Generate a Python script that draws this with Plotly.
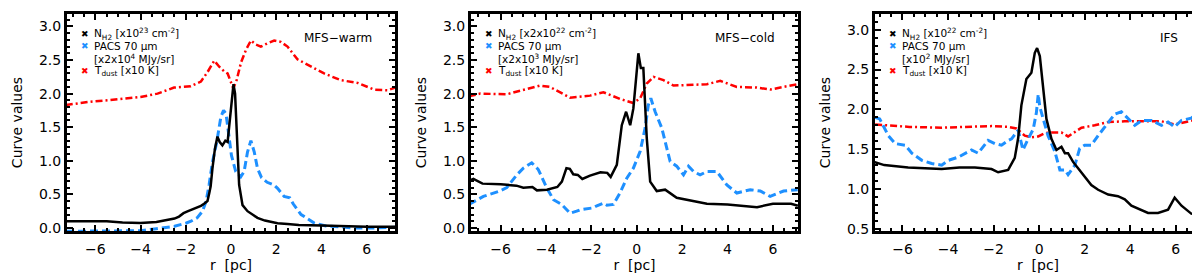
import plotly.graph_objects as go

# ---------------- data ----------------
# Panel 1: MFS-warm
warm_nh2_r = [-7.3, -6.5, -6.0, -5.5, -4.8, -4.0, -3.3, -2.8, -2.5, -2.3, -2.1, -1.9, -1.7, -1.5, -1.33, -1.19,
              -1.04, -0.96, -0.9, -0.82, -0.71, -0.6, -0.5, -0.38, -0.25, -0.15, -0.04, 0.05, 0.11, 0.18, 0.26,
              0.36, 0.51, 0.73, 1.0, 1.17, 1.5, 2.06, 2.5, 3.0, 4.0, 5.0, 6.0, 7.3]
warm_nh2_v = [0.10, 0.10, 0.11, 0.10, 0.08, 0.075, 0.09, 0.12, 0.14, 0.17, 0.22, 0.25, 0.28, 0.30, 0.33, 0.36,
              0.40, 0.52, 0.62, 0.89, 1.18, 1.36, 1.28, 1.23, 1.30, 1.28, 1.62, 1.95, 2.14, 2.00, 1.38,
              0.64, 0.34, 0.25, 0.19, 0.15, 0.11, 0.07, 0.06, 0.045, 0.035, 0.025, 0.02, 0.02]
warm_pacs_r = [-7.3, -6.0, -5.0, -4.0, -3.3, -2.8, -2.5, -2.0, -1.77, -1.5, -1.26, -1.1, -0.97, -0.82, -0.63, -0.45,
               -0.33, -0.22, -0.15, 0.02, 0.21, 0.43, 0.58, 0.73, 0.88, 1.03, 1.17, 1.35, 1.6, 1.9, 2.06, 2.35,
               2.6, 2.75, 3.1, 3.7, 4.2, 4.86, 5.5, 6.3, 7.3]
warm_pacs_v = [-0.05, -0.05, -0.045, -0.04, -0.01, 0.01, 0.025, 0.07, 0.10, 0.15, 0.25, 0.40, 0.64, 0.98, 1.28, 1.65,
               1.75, 1.70, 1.53, 1.08, 0.84, 0.76, 0.84, 1.13, 1.30, 1.13, 0.89, 0.75, 0.68, 0.64, 0.59, 0.47,
               0.45, 0.36, 0.20, 0.07, 0.03, 0.01, 0.0, 0.0, 0.01]
warm_tdust_r = [-7.31, -6.2, -5.47, -4.0, -3.25, -2.52, -1.78, -1.33, -1.04, -0.74, -0.52, -0.3, -0.15, 0.1, 0.25,
                0.44, 0.66, 0.88, 1.1, 1.32, 1.62, 1.91, 2.2, 2.5, 2.94, 3.39, 4.12, 4.86, 5.6, 6.33, 6.92, 7.27]
warm_tdust_v = [1.83, 1.88, 1.90, 1.95, 2.00, 2.09, 2.11, 2.18, 2.32, 2.49, 2.40, 2.33, 2.30, 2.08, 2.20,
                2.46, 2.65, 2.79, 2.73, 2.70, 2.75, 2.79, 2.77, 2.70, 2.51, 2.43, 2.30, 2.20, 2.16, 2.06, 2.05, 2.09]

# Panel 2: MFS-cold
cold_nh2_r = [-7.4, -7.2, -6.8, -6.0, -5.3, -5.0, -4.6, -4.4, -3.96, -3.5, -3.3, -3.1, -2.95, -2.8, -2.6, -2.4,
              -2.06, -1.6, -1.3, -1.15, -0.88, -0.66, -0.47, -0.29, -0.15, 0.0, 0.07, 0.18, 0.29, 0.44, 0.59,
              0.88, 1.25, 1.76, 2.2, 2.5, 3.09, 4.0, 4.56, 5.3, 6.0, 6.8, 7.1]
cold_nh2_v = [0.70, 0.73, 0.66, 0.65, 0.63, 0.60, 0.61, 0.56, 0.57, 0.61, 0.69, 0.89, 0.88, 0.80, 0.79, 0.73,
              0.78, 0.83, 0.82, 0.76, 0.94, 1.53, 1.73, 1.53, 1.78, 2.33, 2.60, 2.38, 2.38, 1.34, 0.69,
              0.55, 0.57, 0.45, 0.42, 0.41, 0.36, 0.35, 0.33, 0.31, 0.36, 0.36, 0.33]
cold_pacs_r = [-7.4, -6.76, -6.03, -5.73, -5.29, -5.0, -4.63, -4.34, -3.97, -3.67, -3.31, -2.94, -2.65, -2.5,
               -1.91, -1.76, -1.47, -1.32, -1.03, -0.74, -0.44, -0.15, 0.15, 0.37, 0.51, 0.62, 0.81, 1.1, 1.47,
               1.76, 2.06, 2.28, 2.5, 2.79, 3.09, 3.53, 3.97, 4.41, 5.0, 5.44, 5.88, 6.47, 7.09]
cold_pacs_v = [0.35, 0.47, 0.55, 0.60, 0.79, 0.89, 0.97, 0.87, 0.60, 0.42, 0.35, 0.22, 0.25, 0.27,
               0.30, 0.33, 0.37, 0.34, 0.35, 0.52, 0.74, 0.89, 1.14, 1.49, 1.83, 1.93, 1.73, 1.49, 0.99,
               0.92, 0.79, 0.92, 0.84, 0.79, 0.84, 0.84, 0.64, 0.52, 0.57, 0.55, 0.47, 0.55, 0.57]
cold_tdust_r = [-7.4, -6.9, -5.73, -4.27, -3.83, -2.94, -2.06, -1.47, -0.73, -0.15, 0.15, 0.44, 0.74, 1.18, 1.62,
                2.35, 3.09, 3.68, 4.41, 5.29, 5.88, 6.47, 7.09]
cold_tdust_v = [1.96, 2.00, 1.99, 2.12, 2.10, 1.94, 1.97, 2.02, 1.92, 1.86, 1.93, 2.15, 2.25, 2.20, 2.12,
                2.13, 2.14, 2.19, 2.10, 2.09, 2.06, 2.10, 2.14]

# Panel 3: IFS
ifs_nh2_r = [-7.25, -6.8, -5.75, -4.28, -3.5, -2.82, -2.09, -1.8, -1.36, -1.07, -0.92, -0.78, -0.56, -0.34, -0.19,
             -0.09, 0.03, 0.18, 0.32, 0.54, 0.76, 0.98, 1.13, 1.27, 1.49, 1.71, 1.93, 2.29, 2.59, 3.03, 3.46,
             3.76, 4.05, 4.49, 4.78, 5.22, 5.66, 5.95, 6.25, 6.68, 7.16]
ifs_nh2_v = [1.34, 1.30, 1.27, 1.25, 1.27, 1.27, 1.25, 1.21, 1.24, 1.39, 1.64, 2.05, 2.38, 2.46, 2.71,
             2.77, 2.67, 2.25, 1.88, 1.63, 1.49, 1.53, 1.45, 1.45, 1.34, 1.26, 1.18, 1.05, 0.99, 0.93, 0.91,
             0.87, 0.79, 0.74, 0.70, 0.70, 0.74, 0.89, 0.79, 0.69, 0.67]
ifs_pacs_r = [-7.2, -7.0, -6.62, -6.32, -5.88, -5.59, -5.15, -4.72, -4.28, -3.98, -3.55, -2.97, -2.68, -2.24, -1.94,
              -1.65, -1.36, -1.21, -0.92, -0.71, -0.48, -0.26, -0.12, -0.04, 0.03, 0.18, 0.39, 0.69, 0.91, 1.13,
              1.27, 1.57, 1.78, 2.0, 2.29, 2.59, 3.03, 3.32, 3.61, 3.9, 4.2, 4.5, 4.93, 5.37, 5.66, 5.95, 6.24,
              6.68, 7.05, 7.2]
ifs_pacs_v = [1.90, 1.88, 1.67, 1.57, 1.55, 1.45, 1.36, 1.32, 1.30, 1.36, 1.40, 1.49, 1.45, 1.61, 1.57,
              1.55, 1.61, 1.63, 1.74, 1.49, 1.63, 1.75, 1.96, 2.19, 2.03, 1.88, 1.67, 1.47, 1.24, 1.24,
              1.18, 1.30, 1.51, 1.55, 1.55, 1.67, 1.84, 1.94, 1.97, 1.88, 1.80, 1.86, 1.86, 1.80, 1.84, 1.78, 1.86,
              1.89, 1.96, 1.93]
ifs_tdust_r = [-7.2, -5.7, -4.28, -2.82, -2.09, -1.36, -1.0, -0.63, -0.34, -0.04, 0.25, 0.54, 0.98, 1.27, 1.86,
               2.44, 3.03, 3.76, 4.5, 5.37, 5.95, 6.54, 7.2]
ifs_tdust_v = [1.81, 1.78, 1.77, 1.78, 1.79, 1.78, 1.76, 1.67, 1.65, 1.66, 1.70, 1.71, 1.71, 1.66, 1.77,
               1.80, 1.84, 1.85, 1.85, 1.85, 1.81, 1.85, 1.89]

panel_names = ["MFS\u2212warm", "MFS\u2212cold", "IFS"]
nh2_labels = ["N<sub>H2</sub> [x10<sup>23</sup> cm<sup>-2</sup>]",
              "N<sub>H2</sub> [x2x10<sup>22</sup> cm<sup>-2</sup>]",
              "N<sub>H2</sub> [x10<sup>22</sup> cm<sup>-2</sup>]"]
pacs_scale_labels = ["[x2x10<sup>4</sup> MJy/sr]", "[x2x10<sup>3</sup> MJy/sr]", "[x10<sup>2</sup> MJy/sr]"]
tdust_label = "T<sub>dust</sub> [x10 K]"
x_ranges = [[-7.3, 7.3], [-7.35, 7.15], [-7.25, 7.15]]
y_ranges = [[-0.06, 3.2], [-0.06, 3.2], [0.46, 3.21]]

panels = [
    (warm_nh2_r, warm_nh2_v, warm_pacs_r, warm_pacs_v, warm_tdust_r, warm_tdust_v),
    (cold_nh2_r, cold_nh2_v, cold_pacs_r, cold_pacs_v, cold_tdust_r, cold_tdust_v),
    (ifs_nh2_r, ifs_nh2_v, ifs_pacs_r, ifs_pacs_v, ifs_tdust_r, ifs_tdust_v),
]

BLACK = "#000000"
BLUE = "#1E90FF"
RED = "#FF0000"
FONT = "DejaVu Sans"

W, H = 1200, 275
ML, MR, MT, MB = 58, 6, 3, 51
plot_w = W - ML - MR
panel_px = [(58, 388), (462, 791), (866, 1194)]
domains = [[(a - ML) / plot_w, (b - ML) / plot_w] for a, b in panel_px]

fig = go.Figure()
annotations = []
shapes = []

for i, (nr, nv, pr, pv, tr, tv) in enumerate(panels):
    xa = "x" if i == 0 else f"x{i+1}"
    ya = "y" if i == 0 else f"y{i+1}"
    fig.add_trace(go.Scatter(x=tr, y=tv, mode="lines", xaxis=xa, yaxis=ya,
                             line=dict(color=RED, width=2.5, dash="7px,3px,2px,3px"), showlegend=False))
    fig.add_trace(go.Scatter(x=pr, y=pv, mode="lines", xaxis=xa, yaxis=ya,
                             line=dict(color=BLUE, width=3, dash="8px,4px"), showlegend=False))
    fig.add_trace(go.Scatter(x=nr, y=nv, mode="lines", xaxis=xa, yaxis=ya,
                             line=dict(color=BLACK, width=2.5), showlegend=False))

    axis_common = dict(showline=True, linecolor="black", linewidth=2, mirror="ticks",
                       ticks="inside", tickcolor="black", tickwidth=1.5, showgrid=False, zeroline=False,
                       tickfont=dict(family=FONT, size=14, color="black"))
    xkey = "xaxis" if i == 0 else f"xaxis{i+1}"
    ykey = "yaxis" if i == 0 else f"yaxis{i+1}"
    fig.update_layout(**{
        xkey: dict(domain=domains[i], anchor=ya, range=x_ranges[i], tickmode="linear", tick0=0, dtick=2,
                   ticklen=7, ticklabelstandoff=3,
                   minor=dict(dtick=0.5, ticks="inside", ticklen=4, tickcolor="black", showgrid=False),
                   title=dict(text="r  [pc]", font=dict(family=FONT, size=14, color="black"), standoff=2),
                   **axis_common),
        ykey: dict(domain=[0, 1], anchor=xa, range=y_ranges[i], tickmode="linear", tick0=0, dtick=0.5,
                   tickformat=".1f", ticklen=7,
                   minor=dict(dtick=0.1, ticks="inside", ticklen=4, tickcolor="black", showgrid=False),
                   title=dict(text="Curve values", font=dict(family=FONT, size=14, color="black"), standoff=13),
                   **axis_common),
    })

    xd = f"{xa} domain"
    yd = f"{ya} domain"
    # plot frame
    shapes.append(dict(type="rect", xref=xd, yref=yd, x0=0, x1=1, y0=0, y1=1,
                       line=dict(color="black", width=2), layer="above"))
    pw = panel_px[i][1] - panel_px[i][0]
    ph = H - MT - MB
    sym_x = 19 / pw
    txt_x = 26 / pw
    rows_py = [24, 36, 49, 62]
    ry = [(H - MB - py) / ph for py in rows_py]
    lf = dict(family=FONT, size=10.5, color="black")
    for col, yy in [(BLACK, ry[0]), (BLUE, ry[1]), (RED, ry[3])]:
        annotations.append(dict(xref=xd, yref=yd, x=sym_x, y=yy, text="\u2716", showarrow=False,
                                xanchor="center", yanchor="middle", font=dict(family=FONT, size=9, color=col)))
    for txt, yy in [(nh2_labels[i], ry[0]), ("PACS 70 \u03bcm", ry[1]), (pacs_scale_labels[i], ry[2]),
                    (tdust_label, ry[3])]:
        annotations.append(dict(xref=xd, yref=yd, x=txt_x, y=yy, text=txt, showarrow=False,
                                xanchor="left", yanchor="middle", font=lf))
    annotations.append(dict(xref=xd, yref=yd, x=1 - 22 / pw, y=(H - MB - 28) / ph, text=panel_names[i],
                            showarrow=False, xanchor="right", yanchor="middle",
                            font=dict(family=FONT, size=12, color="black")))

fig.update_layout(width=W, height=H, margin=dict(l=ML, r=MR, t=MT, b=MB),
                  paper_bgcolor="white", plot_bgcolor="white", annotations=annotations, shapes=shapes,
                  font=dict(family=FONT, color="black"))

fig.write_html("out.html")
